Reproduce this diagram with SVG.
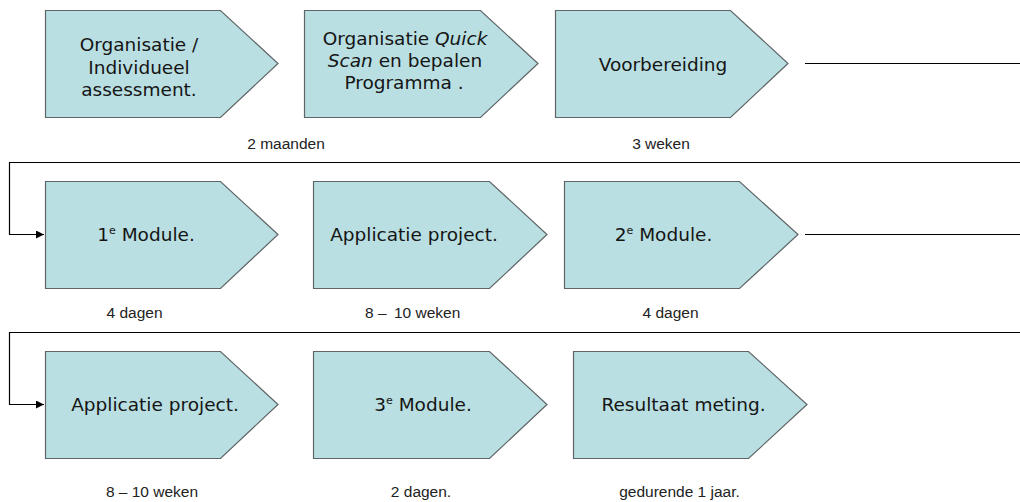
<svg xmlns="http://www.w3.org/2000/svg" width="1020" height="502" viewBox="0 0 1020 502">
  <style>
    .step { fill: #b9dfe2; stroke: #5f6466; stroke-width: 1.2; }
    .node-text { font-family: "DejaVu Sans", Verdana, sans-serif; font-size: 18.5px; fill: #151515; text-anchor: middle; }
    .sup { font-size: 11px; }
    .label { font-family: "Liberation Sans", Arial, sans-serif; font-size: 15.5px; fill: #222; text-anchor: middle; }
    .link { fill: none; stroke: #000; stroke-width: 1.2; }
  </style>
  <defs>
    <marker id="arrow" viewBox="0 0 10 10" refX="10" refY="5" markerUnits="userSpaceOnUse" markerWidth="9" markerHeight="8" orient="auto">
      <path d="M0,0 L10,5 L0,10 Z" fill="#000"/>
    </marker>
  </defs>

  <rect width="1020" height="502" fill="#fff"/>

  <!-- connectors between rows -->
  <g id="connectors">
    <path class="link" d="M805,63.5 H1030 V162.5 H9.5 V234.5 H44" marker-end="url(#arrow)"/>
    <path class="link" d="M805,234.5 H1030 V332.5 H9.5 V404.5 H44" marker-end="url(#arrow)"/>
  </g>

  <!-- row 1 -->
  <g id="step-assessment">
    <polygon class="step" points="45.5,10.5 220.5,10.5 278,63.5 220.5,117.5 45.5,117.5"/>
    <text class="node-text" x="139" y="51">Organisatie /</text>
    <text class="node-text" x="139" y="73.5">Individueel</text>
    <text class="node-text" x="139" y="96">assessment.</text>
  </g>
  <g id="step-quickscan">
    <polygon class="step" points="304.5,10.5 480.5,10.5 538,63.5 480.5,117.5 304.5,117.5"/>
    <text class="node-text" x="405" y="45">Organisatie <tspan font-style="italic">Quick</tspan></text>
    <text class="node-text" x="405" y="67"><tspan font-style="italic">Scan</tspan> en bepalen</text>
    <text class="node-text" x="404" y="89">Programma .</text>
  </g>
  <g id="step-voorbereiding">
    <polygon class="step" points="555.5,10.5 730.5,10.5 788,63.5 730.5,117.5 555.5,117.5"/>
    <text class="node-text" x="663" y="71">Voorbereiding</text>
  </g>
  <text class="label" x="286" y="149">2 maanden</text>
  <text class="label" x="661" y="149">3 weken</text>

  <!-- row 2 -->
  <g id="step-module-1">
    <polygon class="step" points="45.5,181.5 220.5,181.5 278,234.5 220.5,288.5 45.5,288.5"/>
    <text class="node-text" x="146" y="241">1<tspan class="sup" dy="-7">e</tspan><tspan dy="7"> Module.</tspan></text>
  </g>
  <g id="step-applicatie-1">
    <polygon class="step" points="313.5,181.5 489.5,181.5 547,234.5 489.5,288.5 313.5,288.5"/>
    <text class="node-text" x="414" y="241">Applicatie project.</text>
  </g>
  <g id="step-module-2">
    <polygon class="step" points="564.5,181.5 739.5,181.5 798,234.5 739.5,288.5 564.5,288.5"/>
    <text class="node-text" x="663.5" y="241">2<tspan class="sup" dy="-7">e</tspan><tspan dy="7"> Module.</tspan></text>
  </g>
  <text class="label" x="134.5" y="318">4 dagen</text>
  <text class="label" x="365" y="318" style="text-anchor:start">8 –<tspan x="394">10 weken</tspan></text>
  <text class="label" x="670.5" y="318">4 dagen</text>

  <!-- row 3 -->
  <g id="step-applicatie-2">
    <polygon class="step" points="45.5,351.5 220.5,351.5 278,404.5 220.5,458.5 45.5,458.5"/>
    <text class="node-text" x="155" y="411">Applicatie project.</text>
  </g>
  <g id="step-module-3">
    <polygon class="step" points="313.5,351.5 489.5,351.5 547,404.5 489.5,458.5 313.5,458.5"/>
    <text class="node-text" x="423" y="411">3<tspan class="sup" dy="-7">e</tspan><tspan dy="7"> Module.</tspan></text>
  </g>
  <g id="step-resultaat">
    <polygon class="step" points="573.5,351.5 748.5,351.5 807,404.5 748.5,458.5 573.5,458.5"/>
    <text class="node-text" x="683.5" y="411">Resultaat meting.</text>
  </g>
  <text class="label" x="152" y="497">8 – 10 weken</text>
  <text class="label" x="421" y="497">2 dagen.</text>
  <text class="label" x="679.5" y="497">gedurende 1 jaar.</text>
</svg>
